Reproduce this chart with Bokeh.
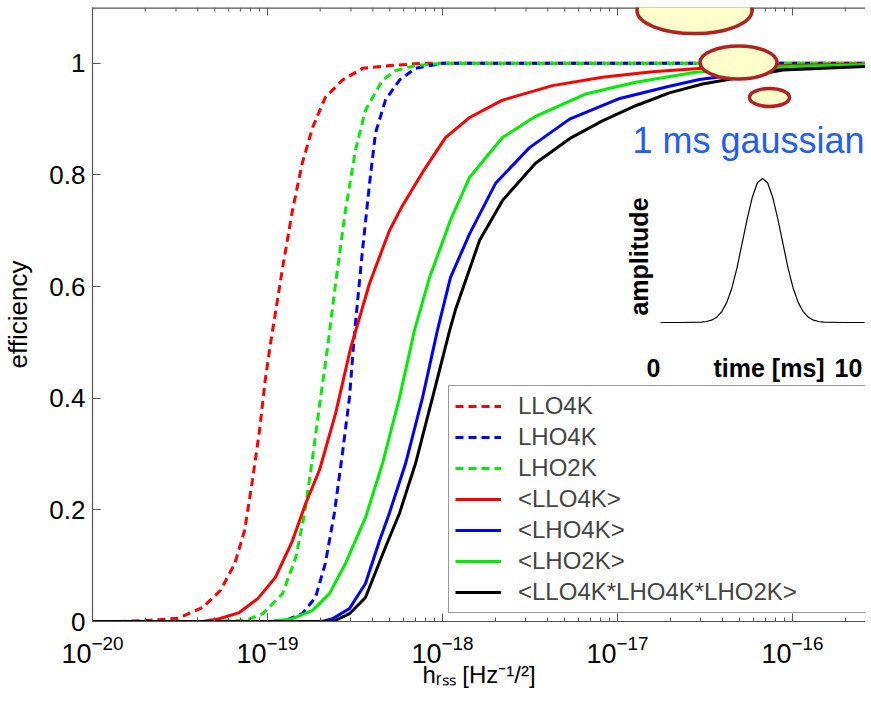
import math
from bokeh.plotting import figure
from bokeh.models import (Range1d, LinearScale, FixedTicker, NumeralTickFormatter,
                          LogTickFormatter, Label, Legend, LegendItem)
from bokeh.embed import file_html
from bokeh.resources import INLINE

# ---------------- data ----------------
LLO4K_X = [1.0e-20, 1.35e-20, 2.1e-20, 3.1e-20, 4.25e-20, 5.4e-20, 6.5e-20, 7.4e-20, 8.2e-20,
           9.0e-20, 9.7e-20, 1.04e-19, 1.22e-19, 1.39e-19, 1.58e-19, 1.81e-19, 2.14e-19,
           2.68e-19, 3.5e-19, 5.0e-19, 7.7e-19, 3.0e-16]
LLO4K_Y = [0, 0, 0.002, 0.006, 0.025, 0.056, 0.104, 0.163, 0.253, 0.342, 0.432, 0.498, 0.634,
           0.737, 0.821, 0.885, 0.939, 0.970, 0.991, 0.996, 1.0, 1.0]

LHO4K_X = [1.0e-20, 1.0e-19, 1.27e-19, 1.58e-19, 1.88e-19, 2.14e-19, 2.41e-19, 2.68e-19,
           2.94e-19, 3.14e-19, 3.49e-19, 3.83e-19, 4.14e-19, 4.72e-19, 5.68e-19, 7.0e-19,
           1.0e-18, 3.0e-16]
LHO4K_Y = [0, 0, 0.002, 0.014, 0.043, 0.104, 0.194, 0.301, 0.401, 0.516, 0.665, 0.785, 0.875,
           0.934, 0.970, 0.991, 1.0, 1.0]

LHO2K_X = [1.0e-20, 4.3e-20, 7.5e-20, 9.4e-20, 1.22e-19, 1.45e-19, 1.63e-19, 1.81e-19, 2.01e-19,
           2.2e-19, 2.45e-19, 2.79e-19, 3.18e-19, 3.63e-19, 4.54e-19, 5.4e-19, 7.0e-19,
           1.0e-18, 3.0e-16]
LHO2K_Y = [0, 0, 0.002, 0.014, 0.050, 0.115, 0.194, 0.294, 0.401, 0.489, 0.606, 0.737, 0.844,
           0.916, 0.970, 0.987, 0.996, 1.0, 1.0]

AVG_LLO4K_X = [1e-20, 4.25e-20, 5.3e-20, 6.9e-20, 8.8e-20, 1.11e-19, 1.39e-19, 1.65e-19,
               1.98e-19, 2.45e-19, 2.98e-19, 3.83e-19, 4.97e-19, 5.9e-19, 7.7e-19, 1.04e-18,
               1.43e-18, 2.2e-18, 4.25e-18, 8.2e-18, 1.58e-17, 3.06e-17, 8.8e-17, 3.0e-16]
AVG_LLO4K_Y = [0, 0, 0.005, 0.016, 0.041, 0.079, 0.145, 0.211, 0.271, 0.373, 0.489, 0.606,
               0.700, 0.745, 0.805, 0.867, 0.903, 0.934, 0.960, 0.975, 0.985, 0.991, 0.996, 0.999]

AVG_LHO4K_X = [1e-20, 2.06e-19, 2.35e-19, 2.94e-19, 3.63e-19, 4.37e-19, 4.97e-19, 6.15e-19,
               7.69e-19, 9.36e-19, 1.11e-18, 1.43e-18, 2.01e-18, 3.14e-18, 5.32e-18, 1.03e-17,
               1.98e-17, 2.94e-17, 8.8e-17, 3.0e-16]
AVG_LHO4K_Y = [0, 0, 0.005, 0.023, 0.068, 0.145, 0.194, 0.283, 0.401, 0.522, 0.616, 0.695,
               0.785, 0.849, 0.900, 0.937, 0.959, 0.971, 0.990, 0.997]

AVG_LHO2K_X = [1e-20, 1.03e-19, 1.39e-19, 1.81e-19, 2.26e-19, 2.79e-19, 3.63e-19, 4.54e-19,
               5.68e-19, 6.92e-19, 8.43e-19, 1.11e-18, 1.43e-18, 2.2e-18, 3.4e-18, 6.56e-18,
               1.27e-17, 2.79e-17, 8.8e-17, 3.0e-16]
AVG_LHO2K_Y = [0, 0, 0.005, 0.020, 0.050, 0.104, 0.186, 0.283, 0.401, 0.522, 0.616, 0.719,
               0.796, 0.867, 0.905, 0.945, 0.966, 0.984, 0.994, 0.998]

AVG_ALL_X = [1e-20, 2.2e-19, 2.45e-19, 2.94e-19, 3.63e-19, 4.72e-19, 5.68e-19, 7.01e-19,
             8.77e-19, 1.10e-18, 1.19e-18, 1.63e-18, 2.2e-18, 3.4e-18, 5.32e-18, 8.2e-18,
             1.27e-17, 1.98e-17, 3.06e-17, 8.8e-17, 3.0e-16]
AVG_ALL_Y = [0, 0, 0.002, 0.014, 0.043, 0.133, 0.194, 0.283, 0.401, 0.522, 0.560, 0.683,
             0.754, 0.821, 0.865, 0.897, 0.924, 0.947, 0.963, 0.988, 0.995]

SERIES = [
    ("LLO4K", LLO4K_X, LLO4K_Y, "#ff0000", "dashed"),
    ("LHO4K", LHO4K_X, LHO4K_Y, "#0000ff", "dashed"),
    ("LHO2K", LHO2K_X, LHO2K_Y, "#00ee00", "dashed"),
    ("<LLO4K>", AVG_LLO4K_X, AVG_LLO4K_Y, "#ff0000", "solid"),
    ("<LHO4K>", AVG_LHO4K_X, AVG_LHO4K_Y, "#0000ff", "solid"),
    ("<LHO2K>", AVG_LHO2K_X, AVG_LHO2K_Y, "#00ee00", "solid"),
    ("<LLO4K*LHO4K*LHO2K>", AVG_ALL_X, AVG_ALL_Y, "#000000", "solid"),
]

# inset: 1 ms gaussian (time in ms, normalised amplitude)
INSET_T = [0, 1, 2, 2.25, 2.5, 2.75, 3, 3.25, 3.5, 3.75, 4, 4.25, 4.5, 4.75, 5, 5.25, 5.5,
           5.75, 6, 6.25, 6.5, 6.75, 7, 7.25, 7.5, 7.75, 8, 9, 10]
INSET_A = [0, 0, 0.003, 0.007, 0.016, 0.036, 0.075, 0.14, 0.24, 0.38, 0.55, 0.72, 0.87, 0.97,
           1.0, 0.97, 0.87, 0.72, 0.55, 0.38, 0.24, 0.14, 0.075, 0.036, 0.016, 0.007, 0.003, 0, 0]

X_MAJOR_EXP = [-20, -19, -18, -17, -16]
Y_TICKS = [0, 0.2, 0.4, 0.6, 0.8, 1.0]
X_TITLE = "h\u1d63\u209b\u209b [Hz\u207b\u00b9/\u00b2]"

# ---------------- layout (pixel geometry of the picture) ----------------
W = 863
TOTAL_H = 688
ML, MT = 90, 7
FRAME_W = W - ML            # 773
FRAME_H = 614
FRAME_TOP = MT
FRAME_BOT = MT + FRAME_H    # 621
MB = TOTAL_H - FRAME_BOT    # 67
DEC = 175.0                 # pixels per decade
Y_MAX = 1.1
X_START = 1e-20
X_END = 10 ** (-20 + FRAME_W / DEC)
PXU = FRAME_H / Y_MAX


def dx(px):
    return 10 ** (-20 + (px - ML) / DEC)


def dy(py):
    return (FRAME_BOT - py) / PXU


FONT = "Liberation Sans"
AXC = "#555555"

p = figure(frame_width=FRAME_W, frame_height=FRAME_H, x_axis_type="log",
           x_range=Range1d(X_START, X_END), y_range=Range1d(0, Y_MAX),
           output_backend="svg", toolbar_location=None,
           min_border_left=ML, min_border_right=0, min_border_top=MT,
           min_border_bottom=MB)
p.xgrid.visible = False
p.ygrid.visible = False
p.outline_line_color = None
p.background_fill_color = "white"
p.border_fill_color = "white"

major = [10.0 ** e for e in X_MAJOR_EXP]
minor = [m * 10.0 ** e for e in range(-20, -15) for m in range(2, 10)]
minor = [v for v in minor if v < X_END]

xa = p.xaxis[0]
xa.ticker = FixedTicker(ticks=major, minor_ticks=minor)
xa.formatter = LogTickFormatter()
xa.major_label_text_font = FONT
xa.major_label_text_font_size = "27px"
xa.major_label_text_color = "black"
xa.major_label_standoff = 13
xa.major_tick_in = 8
xa.major_tick_out = 0
xa.minor_tick_in = 4
xa.minor_tick_out = 0
xa.axis_line_color = AXC
xa.axis_line_width = 1.2
xa.major_tick_line_color = AXC
xa.minor_tick_line_color = AXC
xa.axis_label = X_TITLE
xa.axis_label_text_font = FONT
xa.axis_label_text_font_size = "24px"
xa.axis_label_text_font_style = "normal"
xa.axis_label_text_color = "black"
xa.axis_label_standoff = -5

ya = p.yaxis[0]
ya.ticker = FixedTicker(ticks=Y_TICKS)
ya.formatter = NumeralTickFormatter(format="0.[0]")
ya.major_tick_in = 8
ya.major_tick_out = 0
ya.minor_tick_line_color = None
ya.axis_line_color = AXC
ya.axis_line_width = 1.2
ya.major_tick_line_color = AXC
ya.major_label_text_font = FONT
ya.major_label_text_font_size = "26px"
ya.major_label_text_color = "black"
ya.major_label_standoff = 7
ya.axis_label = "efficiency"
ya.axis_label_text_font = FONT
ya.axis_label_text_font_size = "26px"
ya.axis_label_text_font_style = "normal"
ya.axis_label_text_color = "black"
ya.axis_label_standoff = 13

# top frame line and mirrored ticks
p.segment(x0=[X_START], y0=[Y_MAX], x1=[X_END], y1=[Y_MAX], line_color=AXC, line_width=2.6)
p.segment(x0=major, y0=[Y_MAX] * len(major), x1=major,
          y1=[Y_MAX - 8 / PXU] * len(major), line_color=AXC, line_width=1)
p.segment(x0=minor, y0=[Y_MAX] * len(minor), x1=minor,
          y1=[Y_MAX - 4 / PXU] * len(minor), line_color=AXC, line_width=1)

# curves
items = []
for name, xs, ys, col, dash in SERIES:
    r = p.line(xs, ys, line_color=col, line_width=3,
               line_dash=("8 5" if dash == "dashed" else "solid"))
    items.append(LegendItem(label=name, renderers=[r]))

legend = Legend(items=items, location=(446 - ML, FRAME_BOT - 613), margin=0, padding=6,
                spacing=3, label_height=24, glyph_height=24, glyph_width=46,
                label_standoff=17, label_width=342,
                label_text_font=FONT, label_text_font_size="24px",
                border_line_color="#333333", border_line_width=1.2,
                background_fill_color="white", background_fill_alpha=1.0)
p.add_layout(legend)

# highlight ellipses
for cx, cy, w, h in [(692, 10, 115, 46), (736, 62, 77, 33), (767, 97, 40, 18)]:
    p.ellipse(x=[dx(cx)], y=[dy(cy)], width=w, height=h, width_units="screen",
              height_units="screen", fill_color="#FFFFCC", line_color="#B22020",
              line_width=3.5)

p.add_layout(Label(x=dx(630), y=dy(140), text="1 ms gaussian", text_font=FONT,
                   text_font_size="36px", text_color="#1F5EF5",
                   text_baseline="alphabetic"))

# inset axes mapped through extra ranges: t 0..10 -> px 658..862, amp 0..1 -> px 322..178
T_PX0, T_PX1, A_PY0, A_PY1 = 658, 862, 322, 178
tpx = (T_PX1 - T_PX0) / 10.0
apx = (A_PY0 - A_PY1) / 1.0
p.extra_x_ranges = {"inset_t": Range1d(-(T_PX0 - ML) / tpx, 10 + (ML + FRAME_W - T_PX1) / tpx)}
p.extra_y_ranges = {"inset_a": Range1d(-(FRAME_BOT - A_PY0) / apx, 1 + (A_PY1 - FRAME_TOP) / apx)}
p.extra_x_scales = {"inset_t": LinearScale()}
p.line(INSET_T, INSET_A, x_range_name="inset_t", y_range_name="inset_a",
       line_color="black", line_width=1.2)

p.add_layout(Label(x=dx(636), y=dy(256), text="amplitude", angle=math.pi / 2,
                   text_font=FONT, text_font_size="25px", text_font_style="bold",
                   text_align="center", text_baseline="middle", text_color="black"))
for txt, px in [("0", 644), ("time [ms]", 711), ("10", 832)]:
    p.add_layout(Label(x=dx(px), y=dy(367), text=txt, text_font=FONT,
                       text_font_size="25px", text_font_style="bold",
                       text_color="black", text_baseline="alphabetic"))

open("out.html", "w").write(file_html(p, INLINE))
